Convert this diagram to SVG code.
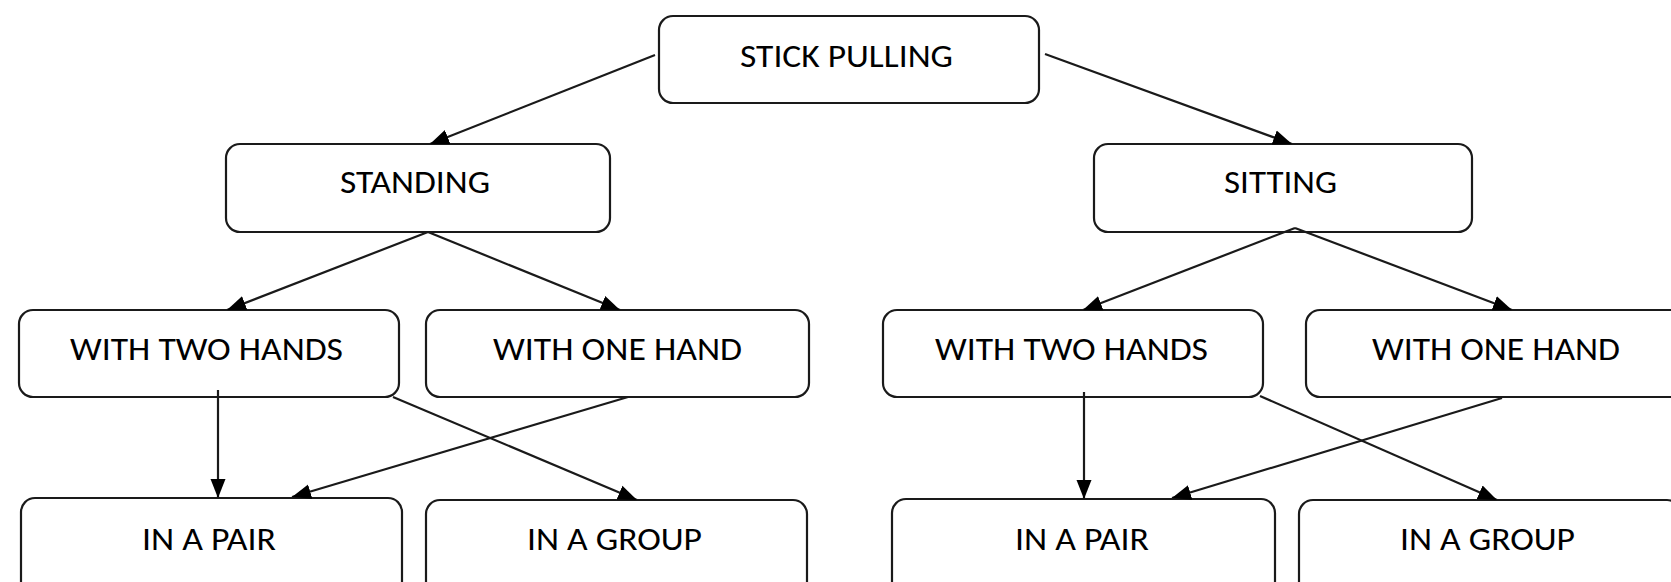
<svg xmlns="http://www.w3.org/2000/svg" width="1671" height="582" viewBox="0 0 1671 582">
<style>
.box{fill:#fff;stroke:#1a1a1a;stroke-width:2.2}
.lbl{font-family:Carlito,"Open Sans","Noto Sans",sans-serif;font-size:32px;fill:#000;text-anchor:middle}
.con{stroke:#1a1a1a;stroke-width:2.2;fill:none;marker-end:url(#ah)}
</style>
<defs>
<marker id="ah" markerUnits="userSpaceOnUse" markerWidth="20" markerHeight="18" viewBox="0 0 20 18" refX="19" refY="9" orient="auto">
<path d="M0,1.5 L19,9 L0,16.5 Z" fill="#000"/>
</marker>
</defs>
<rect width="1671" height="582" fill="#fff"/>
<g id="stick-pulling"><rect class="box" x="659" y="16" width="380" height="87" rx="14"/><text class="lbl" x="846.5" y="67" textLength="213" lengthAdjust="spacingAndGlyphs">STICK PULLING</text></g>
<g id="standing"><rect class="box" x="226" y="144" width="384" height="88" rx="14"/><text class="lbl" x="415" y="193" textLength="150" lengthAdjust="spacingAndGlyphs">STANDING</text></g>
<g id="sitting"><rect class="box" x="1094" y="144" width="378" height="88" rx="14"/><text class="lbl" x="1280.5" y="193" textLength="113" lengthAdjust="spacingAndGlyphs">SITTING</text></g>
<g id="standing-two-hands"><rect class="box" x="19" y="310" width="380" height="87" rx="14"/><text class="lbl" x="206.5" y="360" textLength="273" lengthAdjust="spacingAndGlyphs">WITH TWO HANDS</text></g>
<g id="standing-one-hand"><rect class="box" x="426" y="310" width="383" height="87" rx="14"/><text class="lbl" x="617.5" y="360" textLength="249" lengthAdjust="spacingAndGlyphs">WITH ONE HAND</text></g>
<g id="sitting-two-hands"><rect class="box" x="883" y="310" width="380" height="87" rx="14"/><text class="lbl" x="1071.5" y="360" textLength="273" lengthAdjust="spacingAndGlyphs">WITH TWO HANDS</text></g>
<g id="sitting-one-hand"><rect class="box" x="1306" y="310" width="382" height="87" rx="14"/><text class="lbl" x="1496" y="360" textLength="248" lengthAdjust="spacingAndGlyphs">WITH ONE HAND</text></g>
<g id="standing-pair"><rect class="box" x="21" y="498" width="381" height="100" rx="14"/><text class="lbl" x="209" y="550" textLength="134" lengthAdjust="spacingAndGlyphs">IN A PAIR</text></g>
<g id="standing-group"><rect class="box" x="426" y="500" width="381" height="100" rx="14"/><text class="lbl" x="614.5" y="550" textLength="175" lengthAdjust="spacingAndGlyphs">IN A GROUP</text></g>
<g id="sitting-pair"><rect class="box" x="892" y="499" width="383" height="100" rx="14"/><text class="lbl" x="1082" y="550" textLength="134" lengthAdjust="spacingAndGlyphs">IN A PAIR</text></g>
<g id="sitting-group"><rect class="box" x="1299" y="500" width="382" height="100" rx="14"/><text class="lbl" x="1487.5" y="550" textLength="175" lengthAdjust="spacingAndGlyphs">IN A GROUP</text></g>
<g id="connectors">
<line class="con" x1="655" y1="55" x2="430" y2="144"/>
<line class="con" x1="1045" y1="54" x2="1292" y2="144"/>
<line class="con" x1="428" y1="232" x2="227" y2="310"/>
<line class="con" x1="428" y1="232" x2="620" y2="310"/>
<line class="con" x1="1295" y1="228" x2="1083" y2="310"/>
<line class="con" x1="1295" y1="228" x2="1512" y2="310"/>
<line class="con" x1="218" y1="390" x2="218" y2="498"/>
<line class="con" x1="393" y1="397" x2="637" y2="500"/>
<line class="con" x1="628" y1="397" x2="292" y2="497"/>
<line class="con" x1="1084" y1="392" x2="1084" y2="499"/>
<line class="con" x1="1260" y1="396" x2="1497" y2="500"/>
<line class="con" x1="1502" y1="398" x2="1172" y2="498"/>
</g>
</svg>
